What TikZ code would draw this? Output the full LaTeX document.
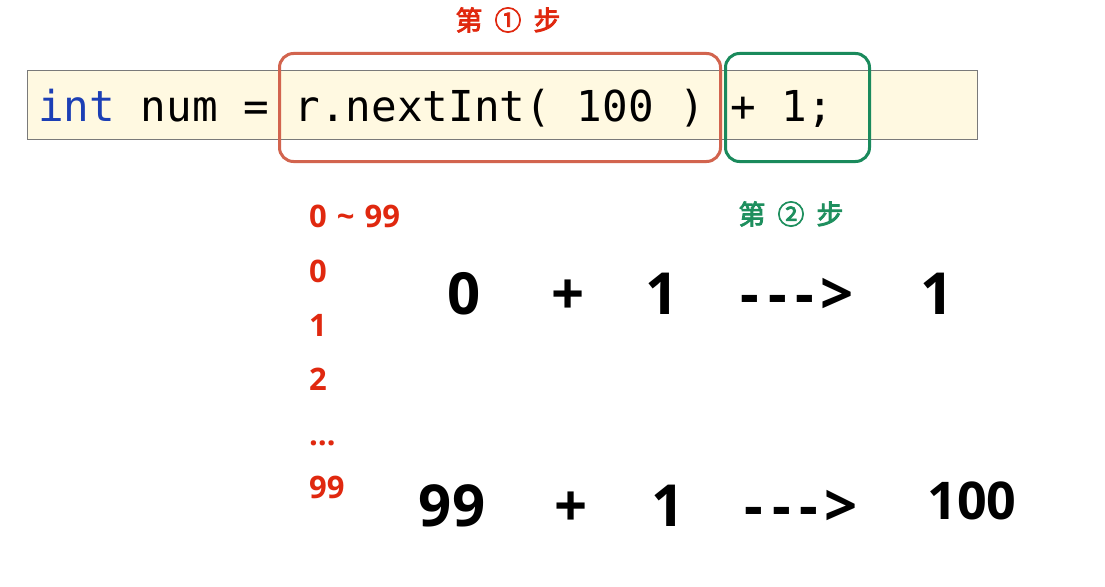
\documentclass[tikz,border=0pt]{standalone}
\usepackage{fontspec}
\setmainfont{Open Sans}
\newfontfamily\codefont{DejaVu Sans Mono}
\newfontfamily\cjk{Noto Sans CJK SC}[FakeBold=3]
\definecolor{barfill}{HTML}{FFF9E1}
\definecolor{barline}{HTML}{7A7A7A}
\definecolor{kwblue}{HTML}{1C3FB5}
\definecolor{boxred}{HTML}{D2644E}
\definecolor{boxgreen}{HTML}{1A8A5C}
\definecolor{txtred}{HTML}{E0280F}
\definecolor{txtgreen}{HTML}{1E8F5E}
\tikzset{
  stepframe/.style={rounded corners=14pt, line width=3pt, inner sep=0pt, anchor=north west},
  steplabel/.style={inner sep=0pt, font=\cjk\fontsize{27}{30}\selectfont},
  rednum/.style={anchor=base west, inner sep=0pt, text=txtred, font=\bfseries\fontsize{31}{36}\selectfont},
  handtxt/.style={anchor=base, inner sep=0pt, font=\bfseries\fontsize{58}{64}\selectfont}
}
\begin{document}
\begin{tikzpicture}[x=1pt,y=-1pt]
\useasboundingbox (0,0) rectangle (1105,586);
\fill[white] (0,0) rectangle (1105,586);
% code bar
\node (bar) [draw=barline, fill=barfill, line width=1pt, inner sep=0pt, anchor=north west,
  minimum width=950pt, minimum height=69pt] at (27,70) {};
\node (code) [anchor=base west, inner sep=0pt, font=\codefont\fontsize{42.6}{50}\selectfont]
  at (38,121) {\textcolor{kwblue}{int} num = r.nextInt( 100 ) + 1;};
% step frames
\node (step1box) [stepframe, draw=boxred, minimum width=441pt, minimum height=108pt] at (278,52) {};
\node (step2box) [stepframe, draw=boxgreen, minimum width=144pt, minimum height=108pt] at (724,52) {};
% step labels
\node (step1) [steplabel, text=txtred] at (508,20) {第\hspace{12pt}①\hspace{12pt}步};
\node (step2) [steplabel, text=txtgreen] at (791,214) {第\hspace{12pt}②\hspace{12pt}步};
% red column
\node (range) [rednum] at (309,227) {0\hspace{10pt}\textasciitilde\hspace{10pt}99};
\node (v0) [rednum] at (309,282) {0};
\node (v1) [rednum] at (309,336) {1};
\node (v2) [rednum] at (309,390) {2};
\node (vdots) [rednum] at (309,445) {…};
\node (v99) [rednum] at (309,498) {99};
% handwritten rows
\node (a0) [handtxt] at (464,314) {0};
\node (aplus) [handtxt] at (568,314) {+};
\node (aone) [handtxt] at (662,314) {1};
\node (aarrow) [handtxt] at (797,314) {-\kern9pt-\kern9pt-\kern6pt>};
\node (ares) [handtxt] at (937,314) {1};
\node (b99) [handtxt] at (452,526) {99};
\node (bplus) [handtxt] at (571,526) {+};
\node (bone) [handtxt] at (668,526) {1};
\node (barrow) [handtxt] at (801,526) {-\kern9pt-\kern9pt-\kern6pt>};
\node (bres) [handtxt, font=\bfseries\fontsize{52}{60}\selectfont] at (972,519) {100};
\end{tikzpicture}
\end{document}
